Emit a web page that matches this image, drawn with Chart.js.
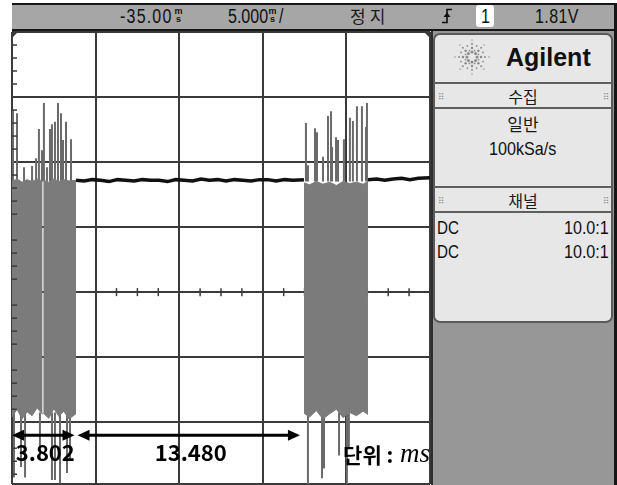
<!DOCTYPE html>
<html>
<head>
<meta charset="utf-8">
<script src="https://cdn.jsdelivr.net/npm/chart.js@4.4.1/dist/chart.umd.min.js"></script>
<style>
  body { margin:0; width:617px; height:485px; position:relative; overflow:hidden; background:#fff; }
  #scope { position:absolute; left:0; top:0; display:block; }
  .abs { position:absolute; white-space:nowrap; }
  .narrow { font-family:"Liberation Sans", Arial, sans-serif; transform:scaleX(0.8); transform-origin:left center; color:#111; }
  .kr { font-family:"Noto Sans CJK KR", sans-serif; color:#1a1a1a; }
  .center { text-align:center; }
  .center span { display:inline-block; }
  .rule { position:absolute; left:434px; width:179px; height:2px; background:#5e5e5e; }
  .grip { position:absolute; font-family:"DejaVu Sans", sans-serif; font-size:9px; color:#8a8a8a; line-height:10px; }
  .unit { position:absolute; font-family:"Liberation Sans", Arial, sans-serif; font-size:9px; font-weight:bold; line-height:8px; text-align:center; width:9px; color:#111; }
</style>
</head>
<body>
<canvas id="scope" width="617" height="485"></canvas>

<!-- top status bar -->
<div class="abs" style="left:12px; top:3px; width:603px; height:24px; background:#a6a6a6; border-top:2px solid #161616; border-bottom:2px solid #161616;"></div>
<div class="abs narrow" style="left:120px; top:4px; height:24px; line-height:24px; font-size:20px; letter-spacing:1.5px;">-35.00</div>
<div class="unit" style="left:174px; top:7px;">m<br>s</div>
<div class="abs narrow" style="left:228px; top:4px; height:24px; line-height:24px; font-size:20px;">5.000</div>
<div class="unit" style="left:268px; top:7px;">m<br>s</div>
<div class="abs narrow" style="left:279px; top:4px; height:24px; line-height:24px; font-size:20px;">/</div>
<div class="abs kr" style="left:350px; top:4px; height:24px; line-height:24px; font-size:17px; letter-spacing:4px;">정지</div>
<svg class="abs" style="left:441px; top:8px;" width="12" height="16" viewBox="0 0 12 16">
  <path d="M1 14.5 H6 V1.5 H11" fill="none" stroke="#111" stroke-width="1.6"/>
  <polygon points="2.5,9 6,4.5 9.5,9" fill="#111"/>
</svg>
<div class="abs" style="left:476px; top:5px; width:18px; height:22px; background:#fff; border-radius:3px;"></div>
<div class="abs narrow" style="left:481px; top:4px; height:24px; line-height:24px; font-size:20px;">1</div>
<div class="abs narrow" style="left:535px; top:4px; height:24px; line-height:24px; font-size:20px; letter-spacing:0.5px;">1.81V</div>

<!-- right side -->
<div class="abs" style="left:431px; top:31px; width:184px; height:454px; background:#979797; border-left:2px solid #2e2e2e;"></div>
<div class="abs" style="left:614px; top:3px; width:3px; height:482px; background:#161616;"></div>
<div class="abs" style="left:433px; top:33px; width:180px; height:290px; box-sizing:border-box; background:#e7e7e7; border:2px solid #5a5a5a; border-radius:7px;"></div>
<svg id="logo" class="abs" style="left:452px; top:37px;" width="40" height="40" viewBox="0 0 40 40"></svg>
<div class="abs" style="left:506px; top:42px; height:30px; line-height:30px; font-family:'Liberation Sans', Arial, sans-serif; font-weight:bold; font-size:25px; color:#111;">Agilent</div>
<div class="rule" style="top:82px;"></div>
<div class="grip" style="left:438px; top:92px;">⠿</div>
<div class="grip" style="left:603px; top:92px;">⠿</div>
<div class="abs kr center" style="left:433px; top:85px; width:180px; height:22px; line-height:22px; font-size:16px;"><span>수집</span></div>
<div class="rule" style="top:107px;"></div>
<div class="abs kr center" style="left:433px; top:112px; width:180px; height:24px; line-height:24px; font-size:17px;"><span>일반</span></div>
<div class="abs center" style="left:433px; top:137px; width:180px; height:24px; line-height:24px; font-family:'Liberation Sans', Arial, sans-serif; font-size:19px; color:#111;"><span style="transform:scaleX(0.85);">100kSa/s</span></div>
<div class="rule" style="top:186px;"></div>
<div class="grip" style="left:438px; top:196px;">⠿</div>
<div class="grip" style="left:603px; top:196px;">⠿</div>
<div class="abs kr center" style="left:433px; top:189px; width:180px; height:22px; line-height:22px; font-size:16px;"><span>채널</span></div>
<div class="rule" style="top:211px;"></div>
<div class="abs narrow" style="left:437px; top:216px; height:24px; line-height:24px; font-size:19px;">DC</div>
<div class="abs" style="left:540px; top:216px; width:69px; height:24px; line-height:24px; text-align:right; font-family:'Liberation Sans', Arial, sans-serif; font-size:19px; color:#111;"><span style="display:inline-block; transform:scaleX(0.85); transform-origin:right center;">10.0:1</span></div>
<div class="abs narrow" style="left:437px; top:240px; height:24px; line-height:24px; font-size:19px;">DC</div>
<div class="abs" style="left:540px; top:240px; width:69px; height:24px; line-height:24px; text-align:right; font-family:'Liberation Sans', Arial, sans-serif; font-size:19px; color:#111;"><span style="display:inline-block; transform:scaleX(0.85); transform-origin:right center;">10.0:1</span></div>

<script>
// time in ms (5 ms/div), amplitude in divisions (0 = centre line)
const burst1aTime   = [0, 0.3, 0.6, 0.9, 1.2, 1.5, 1.83];
const burst1aTop    = [1.70, 1.74, 1.69, 1.73, 1.70, 1.74, 1.71];
const burst1aBottom = [-1.92, -1.80, -1.95, -1.84, -1.90, -1.78, -1.88];

const burst1bTime   = [1.87, 2.2, 2.5, 2.8, 3.1, 3.4, 3.83];
const burst1bTop    = [1.72, 1.69, 1.74, 1.70, 1.73, 1.71, 1.72];
const burst1bBottom = [-1.86, -1.94, -1.79, -1.91, -1.83, -1.95, -1.87];

const burst2Time   = [17.46, 17.8, 18.2, 18.6, 19.0, 19.4, 19.8, 20.2, 20.6, 21.0, 21.29];
const burst2Top    = [1.68, 1.65, 1.70, 1.66, 1.69, 1.64, 1.70, 1.67, 1.69, 1.66, 1.70];
const burst2Bottom = [-1.86, -1.92, -1.82, -1.95, -1.87, -1.80, -1.93, -1.85, -1.90, -1.83, -1.88];

// darker streaks inside the bursts
const streakTime = [0.2, 0.5, 0.95, 1.35, 1.7, 2.05, 2.45, 2.9, 3.35, 3.7,
                    17.6, 17.95, 18.35, 18.8, 19.2, 19.6, 20.0, 20.45, 20.8, 21.15];
const streakTop  = [1.60, 1.55, 1.62, 1.50, 1.58, 1.61, 1.52, 1.59, 1.55, 1.60,
                    1.55, 1.60, 1.52, 1.58, 1.50, 1.61, 1.56, 1.53, 1.60, 1.57];
const streakLow  = [-1.75, -1.70, -1.80, -1.72, -1.78, -1.68, -1.80, -1.74, -1.77, -1.70,
                    -1.76, -1.70, -1.79, -1.73, -1.80, -1.71, -1.77, -1.74, -1.69, -1.78];

const upTime = [0.06, 0.30, 0.72, 1.20, 1.44, 1.61, 1.79, 1.91, 2.09, 2.27, 2.39, 2.57, 2.75, 2.93, 3.05, 3.23, 3.53,
                17.58, 17.70, 18.12, 18.24, 18.60, 18.90, 19.08, 19.14, 19.38, 19.50, 19.85, 20.21, 20.39, 20.63, 20.93, 21.17, 21.23];
const upPeak = [2.80, 2.75, 1.92, 1.94, 2.06, 2.51, 2.18, 2.91, 1.92, 2.51, 2.58, 2.62, 2.91, 2.75, 2.34, 2.62, 2.35,
                2.60, 1.95, 2.52, 2.46, 2.08, 2.71, 2.78, 2.23, 2.38, 2.34, 2.35, 2.68, 2.63, 2.86, 2.86, 2.54, 2.91];

const downTime = [0.12, 0.54, 0.78, 1.67, 2.39, 2.57, 2.87, 3.29, 3.47, 17.70, 18.54, 18.66, 19.56, 20.03, 20.15];
const downPeak = [-2.85, -2.69, -2.85, -2.58, -2.89, -2.89, -2.94, -2.78, -2.58, -3.10, -2.86, -2.71, -2.51, -3.10, -2.38];

const idleTime = [3.83, 4.3, 4.8, 5.3, 5.8, 6.3, 6.8, 7.3, 7.8, 8.3, 8.8, 9.3, 9.8, 10.3, 10.8, 11.3, 11.8, 12.3,
                  12.8, 13.3, 13.8, 14.3, 14.8, 15.3, 15.8, 16.3, 16.8, 17.46];
const idleLevel = [1.72, 1.71, 1.73, 1.72, 1.70, 1.73, 1.72, 1.71, 1.73, 1.72, 1.72, 1.70, 1.73, 1.72, 1.71, 1.74, 1.72, 1.73,
                   1.71, 1.73, 1.72, 1.71, 1.73, 1.73, 1.71, 1.73, 1.72, 1.73];
const tailTime  = [21.29, 21.8, 22.3, 22.8, 23.3, 23.8, 24.3, 25];
const tailLevel = [1.73, 1.74, 1.72, 1.74, 1.75, 1.73, 1.75, 1.76];

// measured spans (ms)
const spanStart  = [0, 3.802];
const spanLength = [3.802, 13.480];

const traceGray = '#7b7b7b';

function pts(time, vals) {
  return time.map((t, i) => ({ x: t, y: vals[i] }));
}
function strokes(time, peaks, base) {
  const out = [];
  time.forEach((t, i) => {
    const b = Array.isArray(base) ? base[i] : base;
    out.push({ x: t, y: b }, { x: t, y: peaks[i] }, { x: t, y: null });
  });
  return out;
}
function envelope(time, top, bottom) {
  return [
    { data: pts(time, top), borderColor: traceGray, borderWidth: 1, fill: false },
    { data: pts(time, bottom), borderColor: traceGray, borderWidth: 1, fill: '-1', backgroundColor: traceGray }
  ];
}

// logo dots
const logo = document.getElementById('logo');
for (let a = 0; a < 16; a++) {
  const ang = a * Math.PI / 8;
  const rings = a % 2 === 0 ? [5, 9, 13, 17] : [7, 12];
  rings.forEach((r, k) => {
    const c = document.createElementNS('http://www.w3.org/2000/svg', 'circle');
    c.setAttribute('cx', 20 + r * Math.cos(ang));
    c.setAttribute('cy', 20 + r * Math.sin(ang));
    c.setAttribute('r', a % 2 === 0 ? 1.5 - k * 0.25 : 0.9);
    c.setAttribute('fill', '#8c8c8c');
    logo.appendChild(c);
  });
}

const minorTicks = {
  id: 'minorTicks',
  beforeDatasetsDraw(chart) {
    const { ctx, scales: { x, y } } = chart;
    const y0 = y.getPixelForValue(0);
    ctx.save();
    ctx.strokeStyle = '#3a3a3a';
    ctx.lineWidth = 1.5;
    for (let v = 1.25; v < 25; v += 1.25) {
      if (Math.abs(v % 5) < 0.01) continue;
      const px = x.getPixelForValue(v);
      ctx.beginPath(); ctx.moveTo(px, y0 - 4); ctx.lineTo(px, y0 + 4); ctx.stroke();
    }
    ctx.restore();
  },
  afterDatasetsDraw(chart) {
    const { ctx, scales: { x, y } } = chart;
    const x0 = x.getPixelForValue(0);
    ctx.save();
    ctx.strokeStyle = '#3a3a3a';
    ctx.lineWidth = 1.5;
    for (let v = -2.8; v < 4; v += 0.2) {
      if (Math.abs(v - Math.round(v)) < 0.01) continue;
      const py = y.getPixelForValue(v);
      ctx.beginPath(); ctx.moveTo(x0, py); ctx.lineTo(x0 + 5, py); ctx.stroke();
    }
    // trigger position markers in the top corners
    const top = y.getPixelForValue(4);
    ctx.fillStyle = '#3a3a3a';
    ctx.beginPath(); ctx.moveTo(x0, top); ctx.lineTo(x0 + 6, top); ctx.lineTo(x0, top + 6); ctx.fill();
    const xr = x.getPixelForValue(25);
    ctx.beginPath(); ctx.moveTo(xr, top); ctx.lineTo(xr - 6, top); ctx.lineTo(xr, top + 6); ctx.fill();
    ctx.restore();
  }
};

const spans = {
  id: 'spans',
  afterDraw(chart) {
    const { ctx, scales: { x, y } } = chart;
    const py = y.getPixelForValue(-2.2);
    ctx.save();
    ctx.strokeStyle = '#000';
    ctx.fillStyle = '#000';
    ctx.lineWidth = 3;
    spanStart.forEach((s, i) => {
      const x1 = x.getPixelForValue(s) + (i ? 2 : 0);
      const x2 = x.getPixelForValue(s + spanLength[i]) - 1;
      ctx.beginPath(); ctx.moveTo(x1 + 8, py); ctx.lineTo(x2 - 8, py); ctx.stroke();
      ctx.beginPath(); ctx.moveTo(x1, py); ctx.lineTo(x1 + 12, py - 5.5); ctx.lineTo(x1 + 12, py + 5.5); ctx.closePath(); ctx.fill();
      ctx.beginPath(); ctx.moveTo(x2, py); ctx.lineTo(x2 - 12, py - 5.5); ctx.lineTo(x2 - 12, py + 5.5); ctx.closePath(); ctx.fill();
      ctx.font = 'bold 22px "Noto Sans CJK KR", sans-serif';
      ctx.textAlign = 'center';
      ctx.textBaseline = 'middle';
      ctx.fillText(spanLength[i].toFixed(3), (x1 + x2) / 2 + 2, py + 17);
    });
    const ux = x.getPixelForValue(19.8);
    ctx.textAlign = 'left';
    ctx.textBaseline = 'middle';
    ctx.font = 'bold 21px "Noto Sans CJK KR", sans-serif';
    ctx.fillText('단위 :', ux, py + 20);
    const w = ctx.measureText('단위 : ').width;
    ctx.font = 'italic 27px "Liberation Serif", serif';
    ctx.fillText('ms', ux + w + 2, py + 20);
    ctx.restore();
  }
};

const gridStyle = { color: '#3a3a3a', lineWidth: 2, drawTicks: false };

new Chart(document.getElementById('scope'), {
  type: 'line',
  data: {
    datasets: [
      ...envelope(burst1aTime, burst1aTop, burst1aBottom),
      ...envelope(burst1bTime, burst1bTop, burst1bBottom),
      ...envelope(burst2Time, burst2Top, burst2Bottom),
      { data: strokes(streakTime, streakTop, streakLow), borderColor: '#666', borderWidth: 1.5 },
      { data: strokes(upTime, upPeak, 1.7), borderColor: '#6a6a6a', borderWidth: 2 },
      { data: strokes(downTime, downPeak, -1.85), borderColor: '#6a6a6a', borderWidth: 2 },
      { data: pts(idleTime, idleLevel), borderColor: '#111', borderWidth: 3.5 },
      { data: pts(tailTime, tailLevel), borderColor: '#111', borderWidth: 3.5 }
    ]
  },
  options: {
    responsive: false,
    animation: false,
    events: [],
    devicePixelRatio: 1,
    layout: { padding: { left: 12, top: 32, right: 187, bottom: 1 } },
    elements: { point: { radius: 0 }, line: { tension: 0 } },
    plugins: { legend: { display: false }, tooltip: { enabled: false } },
    scales: {
      x: { type: 'linear', min: 0, max: 25, ticks: { display: false, stepSize: 5 }, grid: gridStyle, border: { display: false } },
      y: { type: 'linear', min: -2.95, max: 4, ticks: { display: false, stepSize: 1 }, grid: gridStyle, border: { display: false } }
    }
  },
  plugins: [minorTicks, spans]
});
</script>
</body>
</html>
